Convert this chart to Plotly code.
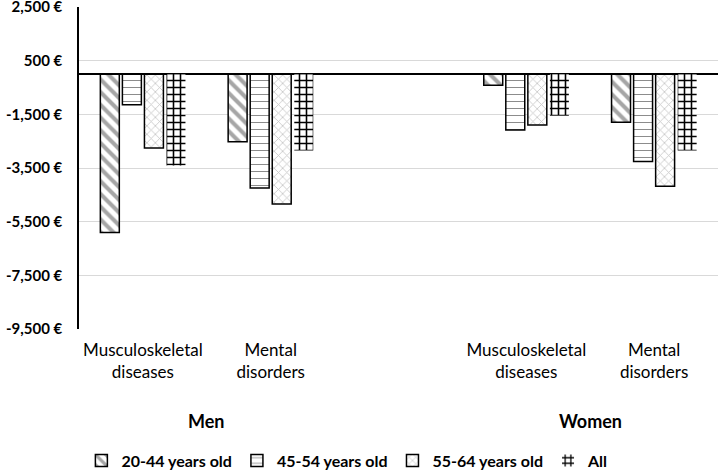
import plotly.graph_objects as go

categories = ["Men|Musculoskeletal", "Men|Mental", "gap", "Women|Musculoskeletal", "Women|Mental"]
cat_labels = ["Musculoskeletal<br>diseases", "Mental<br>disorders", "", "Musculoskeletal<br>diseases", "Mental<br>disorders"]
data_cats = ["Men|Musculoskeletal", "Men|Mental", "Women|Musculoskeletal", "Women|Mental"]

series_names = ["20-44 years old", "45-54 years old", "55-64 years old", "All"]
v_20_44 = [-5900, -2520, -410, -1790]
v_45_54 = [-1140, -4240, -2080, -3260]
v_55_64 = [-2750, -4840, -1900, -4180]
v_all = [-3410, -2850, -1550, -2850]

tick_vals = [2500, 500, -1500, -3500, -5500, -7500, -9500]
tick_text = ["2,500 €", "500 €", "-1,500 €", "-3,500 €", "-5,500 €", "-7,500 €", "-9,500 €"]

groups = ["Men", "Women"]
group_pos = [0.5, 3.5]

FONT = "Lato"

styles = [
    dict(shape="\\", fgcolor="#a6a6a6", size=9, solidity=0.45, line=dict(color="black", width=1.5)),
    dict(shape="-", fgcolor="#8c8c8c", size=7, solidity=0.15, line=dict(color="black", width=1.5)),
    dict(shape="x", fgcolor="#c4c4c4", size=6, solidity=0.25, line=dict(color="black", width=1.5)),
    dict(shape="+", fgcolor="black", size=7, solidity=0.4, line=dict(color="white", width=0)),
]

fig = go.Figure()
for name, vals, st in zip(series_names, [v_20_44, v_45_54, v_55_64, v_all], styles):
    fig.add_trace(go.Bar(
        x=data_cats, y=vals, name=name,
        marker=dict(color="white",
                    pattern=dict(shape=st["shape"], fgcolor=st["fgcolor"], bgcolor="white",
                                 size=st["size"], solidity=st["solidity"], fillmode="replace"),
                    line=st["line"]),
    ))

for g, p in zip(groups, group_pos):
    fig.add_annotation(x=p, y=0, xref="x", yref="paper", yanchor="middle", yshift=-92,
                       text="<b>" + g + "</b>",
                       showarrow=False, font=dict(family=FONT, size=18, color="black"))

fig.update_layout(
    width=718, height=470,
    margin=dict(l=79, r=0, t=7, b=141, autoexpand=False),
    plot_bgcolor="white", paper_bgcolor="white",
    barmode="group", bargap=0.31, bargroupgap=0.14,
    font=dict(family=FONT, size=16, color="black"),
    showlegend=True,
    legend=dict(orientation="h", x=0.42, xanchor="center",
                yref="container", y=0.02, yanchor="middle",
                font=dict(family=FONT, size=16, color="black", weight="bold"),
                itemwidth=30, tracegroupgap=0),
    xaxis=dict(type="category", categoryorder="array", categoryarray=categories,
               tickvals=categories, ticktext=cat_labels, showgrid=False, showline=False,
               ticks="", tickfont=dict(family=FONT, size=17), range=[-0.5, 4.5],
               automargin=False, ticklabelstandoff=9),
    yaxis=dict(range=[-9500, 2502], tickvals=tick_vals, ticktext=tick_text,
               showgrid=True, gridcolor="#d9d9d9", gridwidth=1,
               showline=True, linecolor="black", linewidth=1.5,
               zeroline=True, zerolinecolor="black", zerolinewidth=1.5,
               ticks="", automargin=False, ticklabeloverflow="allow",
               ticklabelstandoff=12,
               tickfont=dict(family=FONT, size=15, weight="bold")),
)

fig.write_html("out.html", config={"displayModeBar": False},
               post_script="document.body.style.margin='0';document.body.style.overflow='hidden';")
